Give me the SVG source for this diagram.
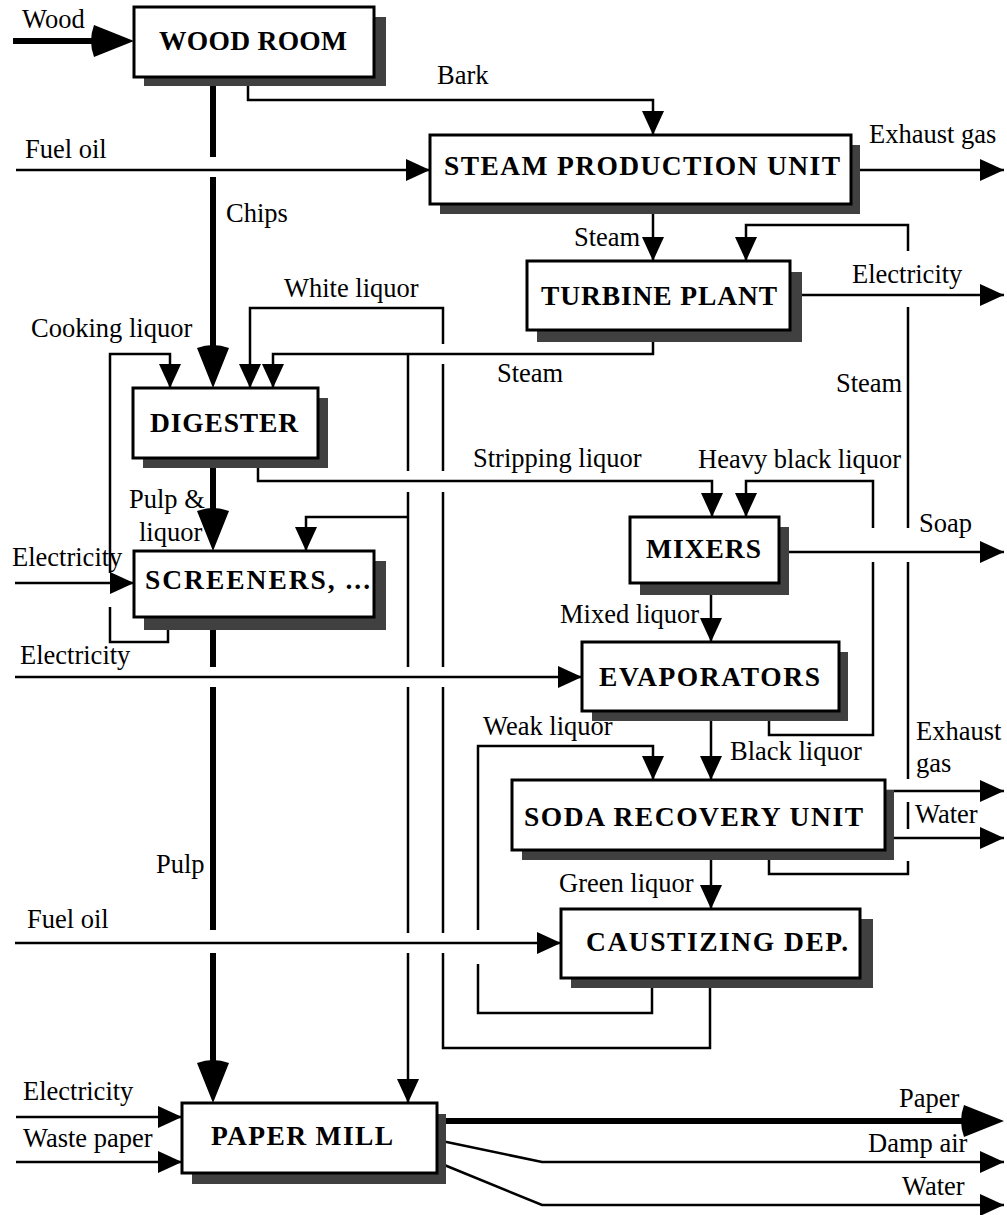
<svg xmlns="http://www.w3.org/2000/svg" width="1007" height="1215" viewBox="0 0 1007 1215">
<style>
.box{fill:#fff;stroke:#000;stroke-width:3}
.sh{fill:#404040}
.nt{font-family:"Liberation Serif","Times New Roman",serif;font-weight:bold;font-size:27.5px}
.lb{font-family:"Liberation Serif","Times New Roman",serif;font-size:26.5px}
.ln{fill:none;stroke:#000;stroke-width:2.5}
.ar{marker-end:url(#a)}
.tk{fill:none;stroke:#000;stroke-width:6}
.ta{marker-end:url(#b)}
</style>
<defs>
<marker id="a" markerUnits="userSpaceOnUse" markerWidth="26" markerHeight="24" refX="24" refY="11" orient="auto" overflow="visible"><path d="M0,0 L24,11 L0,22 Z"/></marker>
<marker id="b" markerUnits="userSpaceOnUse" markerWidth="44" markerHeight="36" refX="32" refY="16" orient="auto" overflow="visible"><path d="M0,0 Q-6,16 0,32 L40,16 Z"/></marker>
</defs>
<rect width="1007" height="1215" fill="#fff"/>

<g id="connectors">
<path class="tk ta" d="M13,41 H126"/>
<path class="tk" d="M213,77 V157"/>
<path class="tk ta" d="M213,177 V380"/>
<path class="tk ta" d="M213,458 V543"/>
<path class="tk" d="M213,617 V667"/>
<path class="tk" d="M213,687 V930"/>
<path class="tk ta" d="M213,953 V1095"/>
<path class="tk ta" d="M437,1121 H996"/>

<path class="ln ar" d="M248,77 V100 H653 V135"/>
<path class="ln ar" d="M16,170 H430"/>
<path class="ln ar" d="M851,170 H1004"/>
<path class="ln ar" d="M653,204 V261"/>
<path class="ln ar" d="M790,295 H1004"/>
<path class="ln" d="M769,850 V874 H908 V861"/>
<path class="ln" d="M908,829 V802"/>
<path class="ln" d="M908,779 V562"/>
<path class="ln" d="M908,528 V307"/>
<path class="ln ar" d="M908,251 V225 H746 V261"/>
<path class="ln ar" d="M653,330 V354 H273 V388"/>
<path class="ln" d="M408,354 V471"/>
<path class="ln" d="M408,492 V667"/>
<path class="ln" d="M408,687 V933"/>
<path class="ln ar" d="M408,953 V1103"/>
<path class="ln ar" d="M408,517 H306 V551"/>
<path class="ln" d="M710,978 V1048 H443 V953"/>
<path class="ln" d="M443,933 V687"/>
<path class="ln" d="M443,667 V492"/>
<path class="ln" d="M443,471 V364"/>
<path class="ln ar" d="M443,344 V308 H250 V388"/>
<path class="ln" d="M168,617 V642 H110 V607"/>
<path class="ln ar" d="M110,573 V354 H170 V388"/>
<path class="ln ar" d="M15,583 H134"/>
<path class="ln ar" d="M258,458 V481 H712 V517"/>
<path class="ln" d="M769,711 V735 H873 V562"/>
<path class="ln ar" d="M873,528 V481 H746 V517"/>
<path class="ln ar" d="M779,552 H1004"/>
<path class="ln ar" d="M711,583 V642"/>
<path class="ln ar" d="M15,677 H582"/>
<path class="ln ar" d="M711,711 V780"/>
<path class="ln" d="M652,978 V1013 H478 V964"/>
<path class="ln ar" d="M478,930 V746 H653 V780"/>
<path class="ln ar" d="M885,791 H1004"/>
<path class="ln ar" d="M885,838 H1004"/>
<path class="ln ar" d="M711,850 V909"/>
<path class="ln ar" d="M15,943 H561"/>
<path class="ln ar" d="M16,1117 H182"/>
<path class="ln ar" d="M16,1162 H182"/>
<path class="ln ar" d="M437,1140 L542,1162 H1004"/>
<path class="ln ar" d="M437,1162 L542,1205 H1004"/>

<g class="lb">
<text x="22" y="28">Wood</text>
<text x="437" y="84">Bark</text>
<text x="25" y="158">Fuel oil</text>
<text x="869" y="143">Exhaust gas</text>
<text x="226" y="222">Chips</text>
<text x="574" y="246">Steam</text>
<text x="852" y="283">Electricity</text>
<text x="284" y="297">White liquor</text>
<text x="31" y="337">Cooking liquor</text>
<text x="497" y="382">Steam</text>
<text x="836" y="392">Steam</text>
<text x="473" y="467">Stripping liquor</text>
<text x="698" y="468">Heavy black liquor</text>
<text x="129" y="508">Pulp &amp;</text>
<text x="139" y="541">liquor</text>
<text x="919" y="532">Soap</text>
<text x="12" y="566">Electricity</text>
<text x="560" y="623">Mixed liquor</text>
<text x="20" y="664">Electricity</text>
<text x="483" y="735">Weak liquor</text>
<text x="916" y="740">Exhaust</text>
<text x="916" y="772">gas</text>
<text x="730" y="760">Black liquor</text>
<text x="915" y="823">Water</text>
<text x="156" y="873">Pulp</text>
<text x="559" y="892">Green liquor</text>
<text x="27" y="928">Fuel oil</text>
<text x="23" y="1100">Electricity</text>
<text x="23" y="1147">Waste paper</text>
<text x="899" y="1107">Paper</text>
<text x="868" y="1152">Damp air</text>
<text x="902" y="1195">Water</text>
</g>
</g>

<g id="wood-room">
<rect class="sh" x="144" y="17" width="242" height="69"/>
<rect class="box" x="134" y="7" width="240" height="70"/>
<text class="nt" x="159" y="50" textLength="188" lengthAdjust="spacing">WOOD ROOM</text>
</g>
<g id="steam-production-unit">
<rect class="sh" x="440" y="145" width="420" height="69"/>
<rect class="box" x="430" y="135" width="421" height="69"/>
<text class="nt" x="444" y="175" textLength="396" lengthAdjust="spacing">STEAM PRODUCTION UNIT</text>
</g>
<g id="turbine-plant">
<rect class="sh" x="537" y="272" width="265" height="70"/>
<rect class="box" x="527" y="261" width="263" height="69"/>
<text class="nt" x="541" y="305" textLength="236" lengthAdjust="spacing">TURBINE PLANT</text>
</g>
<g id="digester">
<rect class="sh" x="143" y="398" width="185" height="70"/>
<rect class="box" x="133" y="388" width="185" height="70"/>
<text class="nt" x="150" y="432" textLength="148" lengthAdjust="spacing">DIGESTER</text>
</g>
<g id="screeners">
<rect class="sh" x="144" y="561" width="242" height="69"/>
<rect class="box" x="134" y="551" width="240" height="66"/>
<text class="nt" x="145" y="589" textLength="225" lengthAdjust="spacing">SCREENERS, ...</text>
</g>
<g id="mixers">
<rect class="sh" x="640" y="527" width="149" height="68"/>
<rect class="box" x="630" y="517" width="149" height="66"/>
<text class="nt" x="646" y="558" textLength="115" lengthAdjust="spacing">MIXERS</text>
</g>
<g id="evaporators">
<rect class="sh" x="592" y="652" width="256" height="69"/>
<rect class="box" x="582" y="642" width="257" height="69"/>
<text class="nt" x="599" y="686" textLength="221" lengthAdjust="spacing">EVAPORATORS</text>
</g>
<g id="soda-recovery-unit">
<rect class="sh" x="522" y="790" width="372" height="70"/>
<rect class="box" x="512" y="780" width="373" height="70"/>
<text class="nt" x="524" y="826" textLength="339" lengthAdjust="spacing">SODA RECOVERY UNIT</text>
</g>
<g id="caustizing-dep">
<rect class="sh" x="571" y="919" width="302" height="69"/>
<rect class="box" x="561" y="909" width="299" height="69"/>
<text class="nt" x="586" y="951" textLength="262" lengthAdjust="spacing">CAUSTIZING DEP.</text>
</g>
<g id="paper-mill">
<rect class="sh" x="192" y="1114" width="254" height="70"/>
<rect class="box" x="182" y="1103" width="255" height="70"/>
<text class="nt" x="211" y="1145" textLength="182" lengthAdjust="spacing">PAPER MILL</text>
</g>
</svg>
